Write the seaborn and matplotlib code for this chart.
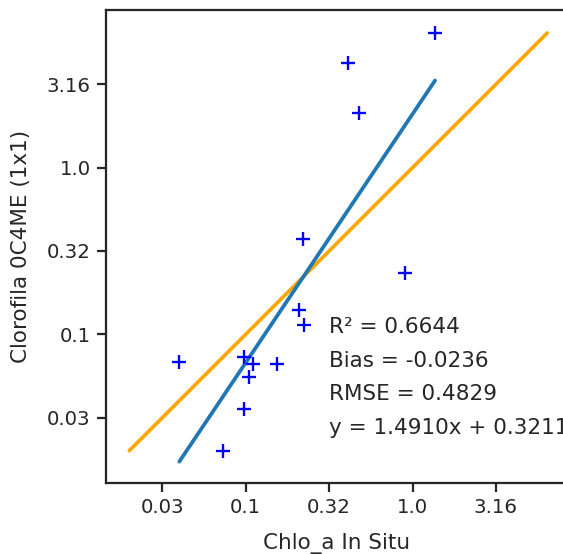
import numpy as np
import pandas as pd
import matplotlib
matplotlib.use("Agg")
import matplotlib.pyplot as plt
import seaborn as sns

# log10 chlorophyll values
log_insitu = [0.135, -0.386, -0.320, -0.659, -0.047, -0.683, -0.651,
              -1.398, -1.011, -0.955, -0.813, -0.981, -1.011, -1.137]
log_sat = [0.808, 0.626, 0.326, -0.426, -0.632, -0.855, -0.945,
           -1.166, -1.138, -1.178, -1.178, -1.254, -1.450, -1.698]

# fit stats as printed on the chart
slope = 1.4910
intercept = 0.3211
r2 = 0.6644
bias = -0.0236
rmse = 0.4829

tick_vals = [-1.5, -1.0, -0.5, 0.0, 0.5]
tick_labels = ["0.03", "0.1", "0.32", "1.0", "3.16"]

sns.set_theme(style="ticks", context="notebook")

dpi = 129
fig = plt.figure(figsize=(563 / dpi, 554 / dpi), dpi=dpi)
ax = fig.add_axes([0.1883, 0.1282, 0.8188, 0.8538])

df = pd.DataFrame({"x": log_insitu, "y": log_sat})

# 1:1 line
lo = min(df.x.min(), df.y.min())
hi = max(df.x.max(), df.y.max())
one = pd.DataFrame({"x": [lo, hi], "y": [lo, hi]})
sns.lineplot(data=one, x="x", y="y", color="orange", linewidth=2, ax=ax)

# regression line
fx = np.array([df.x.min(), df.x.max()])
fit = pd.DataFrame({"x": fx, "y": slope * fx + intercept})
sns.lineplot(data=fit, x="x", y="y", color="#1f77b4", linewidth=2.1, ax=ax)

sns.scatterplot(data=df, x="x", y="y", marker="+", color="blue", s=60,
                linewidth=1.3, ax=ax, zorder=3)

ax.set_xlim(-1.8375, 0.926)
ax.set_ylim(-1.8915, 0.9454)
ax.set_xticks(tick_vals)
ax.set_xticklabels(tick_labels)
ax.set_yticks(tick_vals)
ax.set_yticklabels(tick_labels)
ax.tick_params(length=5)
ax.set_xlabel("Chlo_a In Situ", labelpad=9)
ax.set_ylabel("Clorofila 0C4ME (1x1)", labelpad=9)

txt = "R\u00b2 = %.4f\nBias = %.4f\nRMSE = %.4f\ny = %.4fx + %.4f" % (r2, bias, rmse, slope, intercept)
ax.text(-0.5, -1.62, txt, fontsize=12, va="bottom", ha="left", color=".15",
        linespacing=1.85)

fig.savefig("out.png", dpi=dpi)
